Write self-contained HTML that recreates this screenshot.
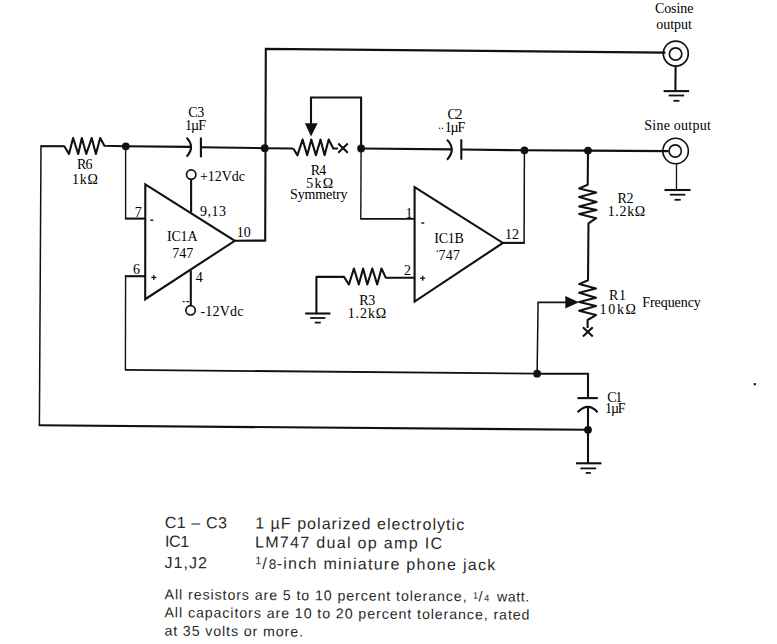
<!DOCTYPE html>
<html><head><meta charset="utf-8">
<style>
html,body{margin:0;padding:0;background:#fff;width:777px;height:644px;overflow:hidden}
svg{display:block}
.w{fill:none;stroke:#111;stroke-width:2.1;stroke-linejoin:miter;stroke-linecap:butt}
.t{font-family:"Liberation Serif",serif;font-size:14px;fill:#000}
.s{font-family:"Liberation Sans",sans-serif;fill:#2a2a2a}
.sup{font-size:9px}
</style></head><body>
<svg width="777" height="644" viewBox="0 0 777 644">
<g class="w">
<polyline points="64,146.2 41,146.2"/>
<polyline points="41,145.2 39.4,425.3" stroke-width="1.5"/>
<polyline points="38.7,425.3 588,429.8"/>
<polyline points="64,145.7 69,154 73.1,138 78.2,154 81.8,138 86.3,154 91.7,138 95.9,154 100.2,138 104.4,145.8 125.8,146.3 190.5,146.9" stroke-linejoin="round"/>
<path d="M186.6,137.6 Q195.5,147 186.6,156.6"/>
<line x1="200.9" y1="137.5" x2="200.9" y2="157.3"/>
<polyline points="200.9,147.2 264.8,148.2 293.3,148.5"/>
<polyline points="125.6,146.3 125.6,218.6" stroke-width="1.4"/>
<polyline points="124.9,218.6 145.2,218.6"/>
<polygon points="145.3,184.3 234.8,240.8 145.2,299.2"/>
<polyline points="234.8,240.8 265.2,240.6 265.8,48.9 665.5,52.6"/>
<line x1="191.1" y1="179.3" x2="191.1" y2="212.7"/>
<line x1="190.8" y1="270.5" x2="190.8" y2="305.8"/>
<polyline points="145.2,276.2 124.9,276.2"/>
<polyline points="125.6,275.5 125.4,369.8" stroke-width="1.4"/>
<polyline points="124.8,369.8 537.1,373.7" stroke-width="1.8"/>
<polyline points="293.3,148.5 297.4,155.3 302.6,139.6 307.2,155.3 311.3,139.6 315.9,155.3 320.5,139.6 324.6,155.3 328.7,139.6 333.3,148.5 338,148.5" stroke-linejoin="round"/>
<path d="M338.2,143.6 L347.8,152.8 M338.2,152.8 L347.8,143.6"/>
<polyline points="311,124 311,97.5 361.1,97.5 361.1,148.5"/>
<polyline points="361.1,148.5 360.8,218.9" stroke-width="1.4"/>
<polyline points="360.2,218.9 414.6,218.9" stroke-width="1.8"/>
<polyline points="361.1,148.5 451.5,149.4"/>
<path d="M447,139.6 Q456.5,149.6 447,159.7"/>
<line x1="461.3" y1="139.4" x2="461.3" y2="159.7"/>
<polyline points="461.3,149.5 524.4,150.3 588,150.6 668.5,151.1"/>
<polygon points="414.6,187.1 502.9,242.9 414.6,301.6"/>
<polyline points="502.9,242.9 524.6,242.9"/>
<polyline points="524.1,243.6 524.4,150.3" stroke-width="1.5"/>
<polyline points="316.4,313.5 316.4,276.9 344,276.9 348.9,284.5 353.9,268.5 358.8,284.5 363.1,268.5 367.3,284.5 372.3,268.5 377.2,284.5 381.5,268.5 385.7,277.6 414.6,277.8" stroke-linejoin="round"/>
<polyline points="588,150.6 587.7,184.8 579.2,188.4 596.2,192.5 579.2,197.1 596.6,202 579.2,206.4 596.6,210 579.2,214.1 596.2,218.2 588.5,223.4 588,280.3 579.2,284.1 596,288.5 579.2,292.8 596,297.7 579.2,302 596,305.9 579.2,310.8 596,315.1 587.6,320 587.6,328" stroke-linejoin="round"/>
<path d="M582.9,327.2 L592.8,336.6 M582.9,336.6 L592.8,327.2"/>
<polyline points="570,302.4 537.4,302.4" stroke-width="1.8"/>
<polyline points="538.1,302.4 537.1,373.7" stroke-width="1.5"/>
<polyline points="537.1,373.7 588,373.7 588,398"/>
<line x1="577.4" y1="398.1" x2="597.8" y2="398.1"/>
<path d="M577.6,412.3 Q588,401.5 597.6,412.3"/>
<polyline points="588,406.5 588,463.3"/>
<circle cx="675.8" cy="53.6" r="12.5" stroke-width="1.7"/>
<circle cx="675.6" cy="54" r="6.2" stroke-width="1.7"/>
<line x1="675.6" y1="66.4" x2="675.4" y2="91"/>
<circle cx="675.6" cy="151" r="12.75" stroke-width="1.6"/>
<circle cx="675.2" cy="151" r="6.1" stroke-width="1.6"/>
<line x1="676.5" y1="163.8" x2="676.5" y2="190" stroke-width="1.3"/>
<circle cx="191.2" cy="174.6" r="4.7" stroke-width="1.7"/>
<circle cx="190.6" cy="310.3" r="4.7" stroke-width="1.7"/>
<line x1="663.6" y1="91.1" x2="689.1" y2="91.1"/>
<line x1="668.65" y1="95.5" x2="684.15" y2="95.5" stroke-width="1.8"/>
<line x1="673.4" y1="100.8" x2="679.4" y2="100.8" stroke-width="1.8"/>
<line x1="664.5" y1="190" x2="690.6" y2="190"/>
<line x1="669.85" y1="194.7" x2="685.35" y2="194.7" stroke-width="1.8"/>
<line x1="674.5" y1="199.8" x2="680.7" y2="199.8" stroke-width="1.8"/>
<line x1="305.2" y1="313.5" x2="330.4" y2="313.5"/>
<line x1="310.2" y1="318" x2="325.4" y2="318" stroke-width="1.8"/>
<line x1="314.8" y1="322.6" x2="320.8" y2="322.6" stroke-width="1.8"/>
<line x1="576" y1="463.3" x2="601.5" y2="463.3"/>
<line x1="580.4" y1="468.4" x2="596.2" y2="468.4" stroke-width="1.8"/>
<line x1="585.8" y1="472.9" x2="590.8" y2="472.9" stroke-width="1.8"/>
</g>
<g fill="#111">
<circle cx="125.8" cy="146.3" r="3.9"/>
<circle cx="264.8" cy="148.2" r="3.9"/>
<circle cx="361.1" cy="148.5" r="3.9"/>
<circle cx="524.4" cy="150.3" r="3.9"/>
<circle cx="588" cy="150.6" r="3.9"/>
<circle cx="537.1" cy="373.7" r="3.9"/>
<circle cx="588" cy="429.8" r="3.9"/>
<polygon points="304.9,123.2 317.6,123.2 311,136.5"/>
<polygon points="579,302.2 565.3,296 565.3,308.4"/>
</g>
<g class="t">
<text x="654.9" y="12.6" textLength="38.5">Cosine</text>
<text x="656.2" y="28.8" textLength="35.6">output</text>
<text x="644.3" y="130.2" textLength="66.5">Sine output</text>
<text x="188.2" y="117.1" textLength="16">C3</text>
<text x="185" y="130.2" textLength="21">1µF</text>
<text x="77" y="168.9" textLength="15.5">R6</text>
<text x="72" y="183.6" textLength="26">1kΩ</text>
<text x="200" y="180.9" textLength="45">+12Vdc</text>
<text x="200" y="216.2" textLength="26">9,13</text>
<text x="134.7" y="216.9">7</text>
<text x="236.8" y="237">10</text>
<text x="167" y="240.8" textLength="30.5">IC1A</text>
<text x="172.3" y="258.2" textLength="21">747</text>
<text x="133" y="273.8">6</text>
<text x="195.7" y="282.3">4</text>
<text x="200.5" y="316.1" textLength="43">-12Vdc</text>
<text x="310.7" y="175.1" textLength="15.5">R4</text>
<text x="306.2" y="187.7" textLength="27">5kΩ</text>
<text x="290" y="198.5" textLength="57.5">Symmetry</text>
<text x="447.4" y="119.3" textLength="15.2">C2</text>
<text x="444.8" y="132.2" textLength="20.5">1µF</text>
<text x="405.5" y="218.3">1</text>
<text x="404" y="274.8">2</text>
<text x="434.3" y="242.5" textLength="29.5">IC1B</text>
<text x="438.4" y="259.7" textLength="21.5">747</text>
<text x="505" y="238.5">12</text>
<text x="359.3" y="305.1" textLength="16">R3</text>
<text x="347.7" y="317.8" textLength="38.5">1.2kΩ</text>
<text x="617.5" y="202.8" textLength="16">R2</text>
<text x="607.7" y="215.7" textLength="37.5">1.2kΩ</text>
<text x="609" y="300.2" textLength="17">R1</text>
<text x="599.5" y="313.5" textLength="36.5">10kΩ</text>
<text x="642.3" y="306.6" textLength="58.5">Frequency</text>
<text x="607.3" y="401.7" textLength="15">C1</text>
<text x="605.1" y="413.4" textLength="20.5">1µF</text>
</g>
<g fill="#111">
<rect x="150.3" y="219.5" width="3" height="1.4"/>
<rect x="151.3" y="276.75" width="5" height="1.3"/>
<rect x="153.15" y="274.9" width="1.3" height="5"/>
<rect x="421.3" y="222.3" width="3" height="1.4"/>
<rect x="420.2" y="277.55" width="5" height="1.3"/>
<rect x="422.05" y="275.7" width="1.3" height="5"/>
<rect x="753.7" y="383.1" width="2.2" height="2.2"/>
<rect x="182.7" y="301" width="2" height="1.2"/><rect x="186.3" y="301" width="2.6" height="1.2"/><rect x="439" y="127.7" width="1.2" height="1.2"/><rect x="441.8" y="127.7" width="1.2" height="1.2"/><rect x="436.6" y="250.5" width="1.3" height="1.3"/>
</g>
<g class="s" font-size="16" transform="rotate(0.4 165 547)">
<text x="164.5" y="527.9" textLength="62.4">C1 – C3</text>
<text x="255" y="527.9" textLength="209">1 µF polarized electrolytic</text>
<text x="165.1" y="546.8" textLength="24">IC1</text>
<text x="255" y="546.8" textLength="187">LM747 dual op amp IC</text>
<text x="164.6" y="568" textLength="42.5">J1,J2</text>
<text x="255.3" y="563.5" font-size="11">1</text>
<text x="262.5" y="568" font-size="16">/</text>
<text x="268.8" y="568" font-size="13.5">8</text>
<text x="276.8" y="568" textLength="218.5">-inch miniature phone jack</text>
</g>
<g class="s" font-size="14.2" transform="rotate(0.36 165 617)">
<text x="164.5" y="599.3" textLength="302">All resistors are 5 to 10 percent tolerance,</text>
<text x="472.8" y="596.5" font-size="9">1</text>
<text x="478.5" y="599.3">/</text>
<text x="484" y="599.3" font-size="9.5">4</text>
<text x="497" y="599.3" textLength="32">watt.</text>
<text x="164.5" y="617.3" textLength="365">All capacitors are 10 to 20 percent tolerance, rated</text>
<text x="164.5" y="635.6" textLength="138.5">at 35 volts or more.</text>
</g>
</svg>
</body></html>
